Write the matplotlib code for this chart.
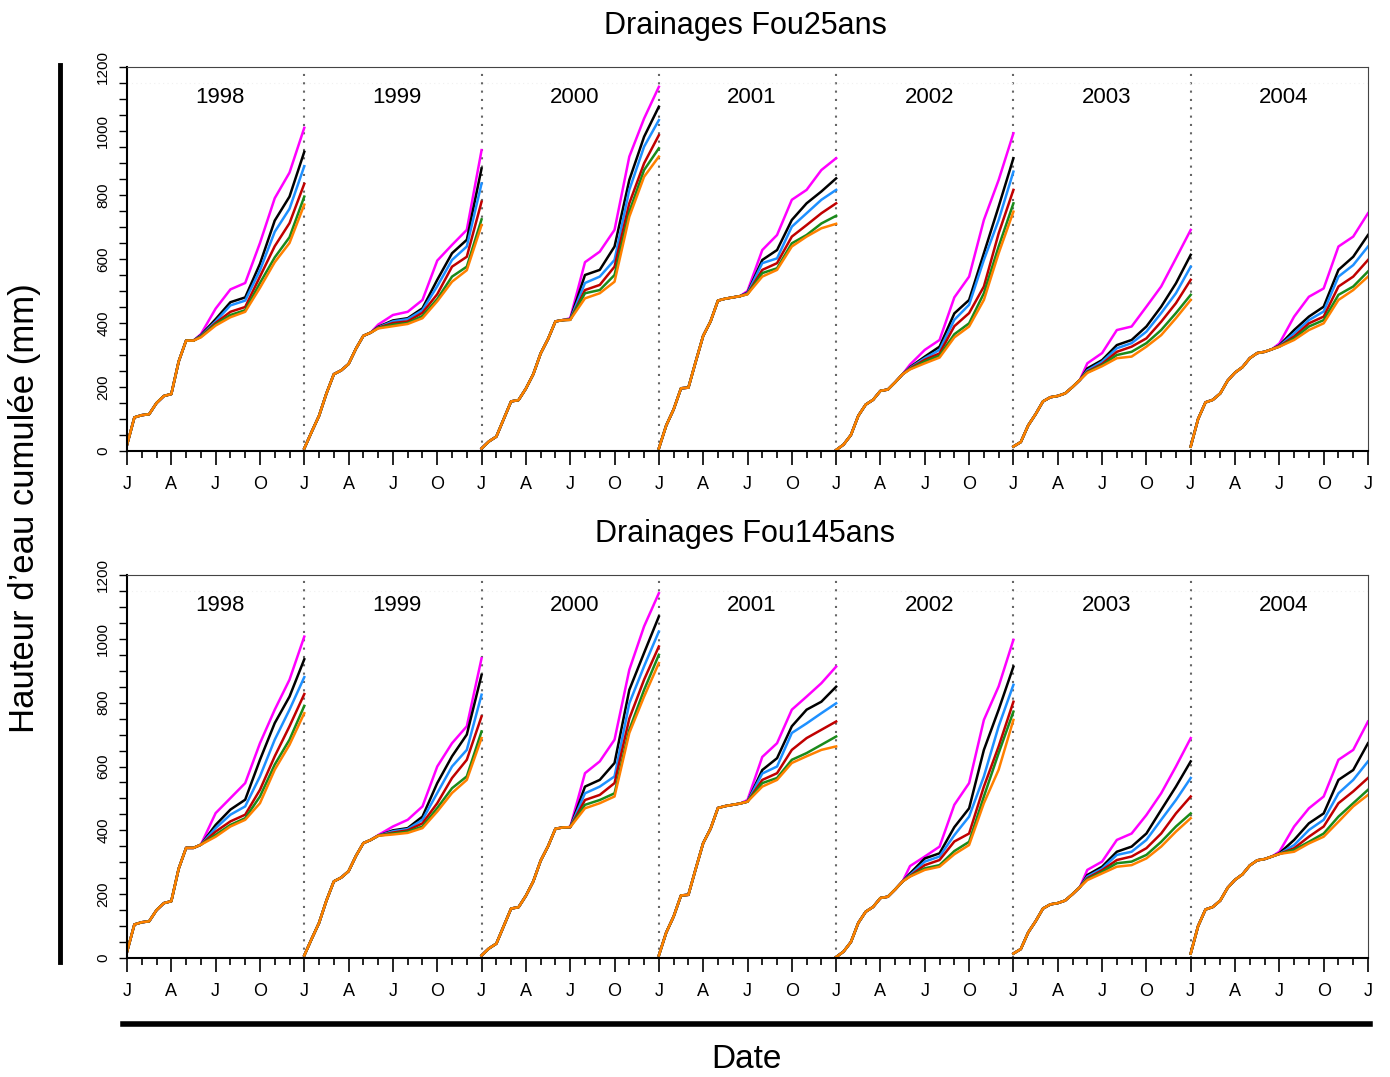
import numpy as np
import matplotlib.pyplot as plt
from matplotlib.lines import Line2D

plt.rcParams['font.family'] = ['Liberation Sans', 'DejaVu Sans']

years = [1998, 1999, 2000, 2001, 2002, 2003, 2004]
colors = ["#ff00ff", "#000000", "#1e90ff", "#c00000", "#1a8a1a", "#ff8000"]
month_labels = ["J", "A", "J", "O"] * 7 + ["J"]

# month where the six curves split apart
split_month = [5, 5, 6, 6, 5, 5, 6]

# shared curve, every half month from 1 Jan up to the split
common = [
    [19, 105, 112, 115, 150, 172, 178, 280, 345, 345, 355],
    [8, 60, 110, 180, 240, 252, 272, 320, 360, 370, 383],
    [8, 30, 45, 100, 155, 159, 195, 240, 305, 350, 405, 409, 410],
    [8, 80, 130, 196, 198, 280, 360, 405, 470, 476, 480, 484, 490],
    [3, 20, 50, 110, 145, 160, 188, 192, 215, 240, 255],
    [14, 28, 80, 115, 155, 168, 172, 180, 200, 222, 244],
    [14, 100, 152, 160, 180, 220, 245, 262, 290, 306, 310, 318, 326],
]

# monthly values after the split; rows: magenta, black, blue, red, green, orange
top_1998 = [[365, 445, 505, 525, 650, 790, 870, 1010],
            [362, 412, 465, 480, 585, 720, 795, 935],
            [360, 405, 455, 470, 565, 685, 757, 890],
            [358, 400, 435, 450, 545, 640, 712, 835],
            [357, 396, 425, 440, 525, 605, 668, 795],
            [355, 392, 418, 435, 510, 590, 650, 770]]
top_1999 = [[395, 425, 435, 472, 595, 644, 691, 940],
            [388, 408, 415, 446, 535, 618, 660, 883],
            [386, 405, 412, 440, 515, 597, 639, 836],
            [385, 400, 405, 432, 490, 576, 607, 779],
            [384, 395, 400, 422, 475, 545, 576, 724],
            [383, 390, 397, 415, 468, 529, 565, 706]]
top_2000 = [[415, 590, 623, 691, 920, 1039, 1138],
            [412, 550, 566, 639, 847, 982, 1076],
            [411, 525, 545, 597, 816, 951, 1034],
            [410, 503, 519, 576, 774, 899, 987],
            [410, 493, 503, 550, 748, 878, 946],
            [410, 477, 493, 529, 732, 857, 920]]
top_2001 = [[500, 628, 675, 785, 816, 878, 915],
            [495, 597, 628, 722, 774, 811, 852],
            [493, 587, 602, 701, 743, 785, 816],
            [491, 566, 587, 670, 706, 743, 774],
            [490, 556, 571, 649, 675, 711, 735],
            [490, 545, 566, 639, 670, 696, 710]]
top_2002 = [[270, 316, 347, 480, 545, 722, 847, 993],
            [262, 295, 326, 430, 472, 618, 764, 915],
            [260, 290, 316, 410, 457, 597, 722, 873],
            [258, 285, 305, 390, 431, 514, 680, 816],
            [256, 280, 298, 365, 399, 493, 639, 774],
            [255, 274, 292, 355, 389, 472, 618, 748]]
top_2003 = [[274, 306, 378, 389, 451, 514, 602, 691],
            [258, 284, 331, 347, 389, 451, 524, 613],
            [252, 279, 321, 337, 373, 431, 493, 576],
            [248, 272, 310, 326, 352, 404, 462, 535],
            [246, 268, 300, 310, 337, 378, 431, 488],
            [244, 265, 290, 295, 326, 362, 415, 472]]
top_2004 = [[336, 420, 482, 508, 639, 670, 743],
            [330, 378, 420, 451, 566, 607, 675],
            [328, 368, 409, 436, 545, 581, 639],
            [327, 358, 399, 420, 514, 545, 597],
            [326, 352, 389, 409, 488, 514, 561],
            [326, 347, 378, 399, 472, 503, 545]]

bot_1998 = [[355, 454, 501, 548, 673, 778, 872, 1007],
            [355, 417, 465, 496, 621, 736, 819, 936],
            [355, 407, 449, 475, 569, 684, 778, 880],
            [355, 396, 428, 449, 527, 632, 726, 827],
            [355, 386, 417, 438, 506, 606, 684, 790],
            [355, 380, 412, 433, 485, 590, 668, 767]]
bot_1999 = [[385, 412, 433, 475, 600, 673, 726, 939],
            [383, 400, 407, 443, 548, 632, 700, 887],
            [383, 397, 404, 433, 517, 600, 652, 825],
            [383, 393, 400, 422, 485, 564, 621, 757],
            [383, 390, 396, 412, 470, 532, 569, 710],
            [383, 387, 392, 407, 459, 517, 558, 689]]
bot_2000 = [[410, 579, 616, 684, 903, 1039, 1143],
            [410, 537, 558, 611, 840, 956, 1070],
            [410, 516, 537, 569, 798, 914, 1023],
            [410, 495, 511, 548, 750, 872, 976],
            [410, 480, 495, 516, 715, 840, 950],
            [410, 469, 485, 506, 705, 819, 924]]
bot_2001 = [[495, 630, 673, 778, 819, 861, 913],
            [490, 589, 626, 726, 778, 803, 850],
            [490, 578, 600, 705, 735, 767, 798],
            [490, 558, 579, 652, 689, 715, 741],
            [490, 548, 564, 621, 642, 668, 694],
            [490, 537, 558, 611, 632, 652, 663]]
bot_2002 = [[288, 318, 349, 480, 548, 746, 851, 997],
            [265, 312, 328, 410, 469, 652, 778, 913],
            [260, 302, 318, 385, 443, 569, 726, 856],
            [257, 291, 307, 365, 390, 537, 663, 803],
            [256, 281, 291, 335, 364, 506, 642, 772],
            [255, 276, 286, 325, 354, 485, 590, 746]]
bot_2003 = [[276, 302, 370, 390, 448, 516, 600, 689],
            [260, 286, 333, 349, 390, 464, 537, 616],
            [255, 280, 323, 333, 370, 433, 495, 564],
            [250, 275, 307, 318, 344, 390, 453, 506],
            [247, 270, 297, 302, 323, 364, 412, 453],
            [244, 265, 286, 291, 312, 349, 396, 438]]
bot_2004 = [[333, 412, 469, 506, 621, 652, 741],
            [328, 370, 422, 453, 558, 589, 673],
            [326, 354, 401, 433, 516, 558, 616],
            [326, 344, 380, 412, 485, 522, 564],
            [326, 339, 364, 390, 443, 485, 527],
            [326, 333, 359, 380, 427, 475, 511]]

top_tails = [top_1998, top_1999, top_2000, top_2001, top_2002, top_2003, top_2004]
bot_tails = [bot_1998, bot_1999, bot_2000, bot_2001, bot_2002, bot_2003, bot_2004]


def draw_panel(ax, tails):
    ax.set_xlim(0, 84)
    ax.set_ylim(0, 1200)
    for i, year in enumerate(years):
        x0 = 12 * i
        s = split_month[i]
        cx = x0 + np.arange(len(common[i])) / 2.0
        tx = x0 + np.arange(s, 13)
        for k in range(6):
            xs = np.concatenate([cx[:-1], tx])
            ys = np.concatenate([common[i][:-1], tails[i][k]])
            ax.plot(xs, ys, color=colors[k], lw=1.8)
        if i > 0:
            ax.axvline(x0, color='#666666', ls=(0, (1, 3)), lw=1.5, zorder=0)
        ax.text(x0 + 6.3, 1105, str(year), ha='center', va='center', fontsize=16)
    ax.axhline(1150, color='#f0f0f0', ls=(0, (1, 3)), lw=0.8, zorder=0)

    ax.set_xticks(np.arange(0, 85, 3))
    ax.set_xticklabels(month_labels)
    ax.set_xticks(np.arange(0, 85, 1), minor=True)
    ax.tick_params(axis='x', which='major', length=10, width=1.2, labelsize=13, pad=8)
    ax.tick_params(axis='x', which='minor', length=5, width=1.2)
    ax.set_yticks(range(0, 1201, 200))
    ax.set_yticklabels([str(v) for v in range(0, 1201, 200)], rotation=90, va='center')
    ax.set_yticks(range(0, 1201, 50), minor=True)
    ax.tick_params(axis='y', which='both', length=6, width=1, labelsize=11, pad=6)
    ax.spines['left'].set_linewidth(1.5)
    ax.spines['bottom'].set_linewidth(1.5)
    ax.spines['top'].set_color('#444444')
    ax.spines['right'].set_color('#444444')


W, H = 1390, 1077
fig = plt.figure(figsize=(W / 100, H / 100), dpi=100)
ax1 = fig.add_axes([127 / W, 1 - 451 / H, 1241 / W, 384 / H])
ax2 = fig.add_axes([127 / W, 1 - 958 / H, 1241 / W, 383 / H])
draw_panel(ax1, top_tails)
draw_panel(ax2, bot_tails)

fig.text(745 / W, 1 - 26 / H, "Drainages Fou25ans", ha='center', va='center', fontsize=22)
fig.text(745 / W, 1 - 534 / H, "Drainages Fou145ans", ha='center', va='center', fontsize=22)
fig.text(25 / W, 1 - 508 / H, "Hauteur d\u2019eau cumulée (mm)", rotation=90,
         ha='center', va='center', fontsize=25)
fig.text(746 / W, 1 - 1060 / H, "Date", ha='center', va='center', fontsize=24)
fig.add_artist(Line2D([60 / W, 60 / W], [1 - 65 / H, 1 - 962 / H], lw=3.5, color='black'))
fig.add_artist(Line2D([123 / W, 1370 / W], [1 - 1024 / H, 1 - 1024 / H], lw=4, color='black'))

fig.savefig("out.png", dpi=100)
